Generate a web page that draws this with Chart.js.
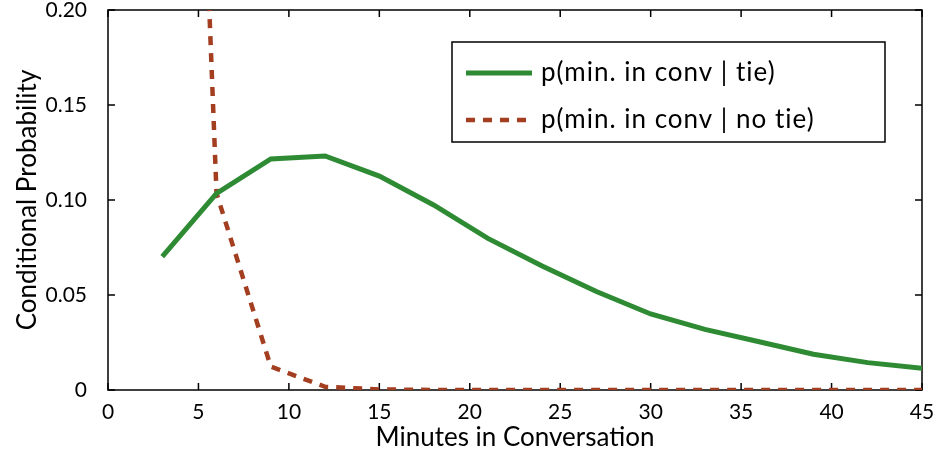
<!DOCTYPE html>
<html>
<head>
<meta charset="utf-8">
<script src="https://cdn.jsdelivr.net/npm/chart.js@4.4.1/dist/chart.umd.min.js"></script>
<style>
  html, body { margin: 0; padding: 0; background: #fff; }
  #wrap { width: 936px; height: 457px; }
</style>
</head>
<body>
<div id="wrap"><canvas id="convChart"></canvas></div>
<script>
// minutes sampled every 3 min
const minutes = [3, 6, 9, 12, 15, 18, 21, 24, 27, 30, 33, 36, 39, 42, 45];
const tieProb = [0.0702, 0.1035, 0.1216, 0.1232, 0.1126, 0.0974, 0.0798, 0.0653,
                 0.0518, 0.0400, 0.0319, 0.0254, 0.0188, 0.0144, 0.0114];
const noTieProb = [0.83, 0.1035, 0.0123, 0.0017, 0.0003, 0, 0, 0, 0, 0, 0, 0, 0, 0, 0];
const seriesLabels = ['p(min. in conv | tie)', 'p(min. in conv | no tie)'];
const xTickValues = [0, 5, 10, 15, 20, 25, 30, 35, 40, 45];
const yTickValues = [0, 0.05, 0.10, 0.15, 0.20];

const GREEN = 'rgb(46, 139, 52)';
const RUST = 'rgb(163, 62, 32)';
const FONT = 'Lato, "DejaVu Sans", sans-serif';

Chart.defaults.font.family = FONT;
Chart.defaults.color = '#000';

const toPoints = (ys) => minutes.map((m, i) => ({ x: m, y: ys[i] }));

// axes box with inward ticks on all four sides
const boxAxes = {
  id: 'boxAxes',
  beforeDatasetsDraw(chart) {
    const { ctx, chartArea: a, scales: { x, y } } = chart;
    const len = 7;
    ctx.save();
    ctx.strokeStyle = '#000';
    ctx.lineWidth = 1.5;
    ctx.strokeRect(a.left, a.top, a.right - a.left, a.bottom - a.top);
    ctx.beginPath();
    xTickValues.forEach(v => {
      const px = x.getPixelForValue(v);
      ctx.moveTo(px, a.bottom); ctx.lineTo(px, a.bottom - len);
      ctx.moveTo(px, a.top); ctx.lineTo(px, a.top + len);
    });
    yTickValues.forEach(v => {
      const py = y.getPixelForValue(v);
      ctx.moveTo(a.left, py); ctx.lineTo(a.left + len, py);
      ctx.moveTo(a.right, py); ctx.lineTo(a.right - len, py);
    });
    ctx.stroke();
    ctx.restore();
  }
};

// boxed legend in the upper right of the plot
const boxLegend = {
  id: 'boxLegend',
  afterDatasetsDraw(chart) {
    const { ctx, chartArea: a } = chart;
    const bx = a.right - 470, by = a.top + 32, bw = 433, bh = 100;
    ctx.save();
    ctx.fillStyle = '#fff';
    ctx.fillRect(bx, by, bw, bh);
    ctx.strokeStyle = '#000';
    ctx.lineWidth = 1.5;
    ctx.strokeRect(bx, by, bw, bh);
    ctx.font = '26px ' + FONT;
    ctx.letterSpacing = '1px';
    ctx.textBaseline = 'middle';
    chart.data.datasets.forEach((ds, i) => {
      const ly = by + 31 + i * 47;
      ctx.beginPath();
      ctx.strokeStyle = ds.borderColor;
      ctx.lineWidth = ds.borderWidth;
      ctx.setLineDash(ds.borderDash || []);
      ctx.moveTo(bx + 14, ly);
      ctx.lineTo(bx + 80, ly);
      ctx.stroke();
      ctx.setLineDash([]);
      ctx.fillStyle = '#000';
      ctx.fillText(ds.label, bx + 89, ly);
    });
    ctx.restore();
  }
};

new Chart(document.getElementById('convChart'), {
  type: 'line',
  data: {
    datasets: [{
      label: seriesLabels[0],
      data: toPoints(tieProb),
      borderColor: GREEN,
      borderWidth: 5,
      pointRadius: 0,
      tension: 0
    }, {
      label: seriesLabels[1],
      data: toPoints(noTieProb),
      borderColor: RUST,
      borderWidth: 4.5,
      borderDash: [9, 8],
      borderCapStyle: 'butt',
      pointRadius: 0,
      tension: 0
    }]
  },
  options: {
    responsive: true,
    maintainAspectRatio: false,
    animation: false,
    layout: { padding: { top: 10, right: 14, left: 0, bottom: 0 } },
    plugins: {
      legend: { display: false },
      tooltip: { enabled: false }
    },
    scales: {
      x: {
        type: 'linear',
        min: 0,
        max: 45,
        afterFit: s => { s.height = 67; s.paddingLeft = 0; s.paddingRight = 0; },
        afterBuildTicks: s => { s.ticks = xTickValues.map(v => ({ value: v })); },
        grid: { display: false, drawTicks: false },
        border: { display: false },
        ticks: { font: { size: 21 }, padding: 10, maxRotation: 0 },
        title: {
          display: true,
          text: 'Minutes in Conversation',
          font: { size: 26 },
          padding: { top: 0, bottom: 4 }
        }
      },
      y: {
        min: 0,
        max: 0.20,
        afterFit: s => { s.width = 108; s.paddingTop = 0; s.paddingBottom = 0; },
        afterBuildTicks: s => { s.ticks = yTickValues.map(v => ({ value: v })); },
        grid: { display: false, drawTicks: false },
        border: { display: false },
        ticks: {
          font: { size: 21 },
          padding: 21,
          callback: v => (v === 0 ? '0' : v.toFixed(2))
        },
        title: {
          display: true,
          text: 'Conditional Probability',
          font: { size: 26 },
          padding: { top: 12, bottom: 0 }
        }
      }
    }
  },
  plugins: [boxAxes, boxLegend]
});
</script>
</body>
</html>
